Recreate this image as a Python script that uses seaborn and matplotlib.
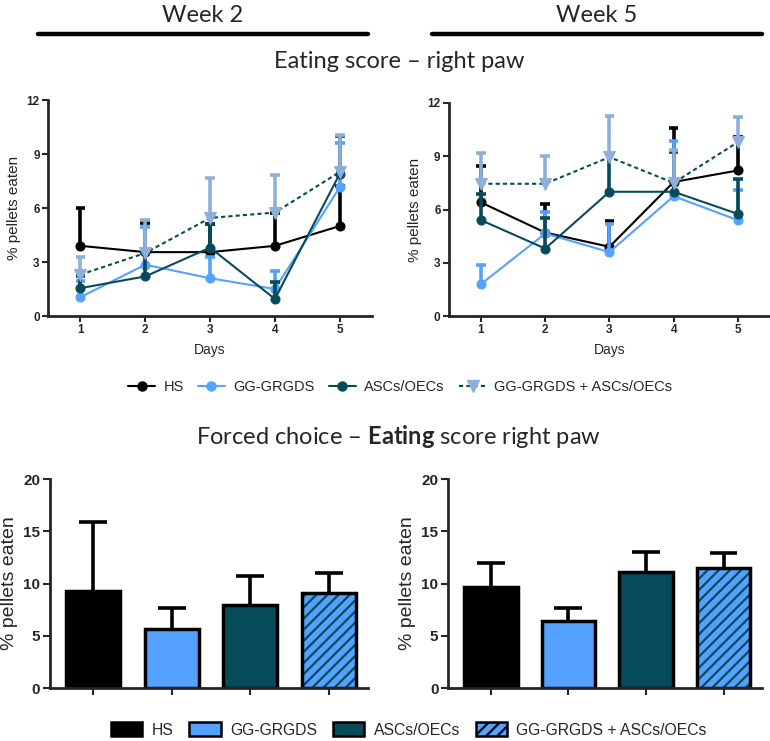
import numpy as np
import pandas as pd
import matplotlib
matplotlib.use('Agg')
import matplotlib.pyplot as plt
import seaborn as sns
from matplotlib.lines import Line2D
from matplotlib.patches import Patch, Rectangle

# groups and days
groups = ['HS', 'GG-GRGDS', 'ASCs/OECs', 'GG-GRGDS + ASCs/OECs']
days = [1, 2, 3, 4, 5]

# eating score per day, week 2 (mean and upper SD)
w2_hs = [3.9, 3.55, 3.55, 3.9, 5.0]
w2_hs_sd = [2.1, 1.6, 1.55, 1.8, 2.2]
w2_gg = [1.05, 2.85, 2.1, 1.5, 7.15]
w2_gg_sd = [0.9, 2.1, 1.2, 1.0, 2.45]
w2_asc = [1.55, 2.2, 3.8, 0.95, 7.9]
w2_asc_sd = [0.7, 1.3, 1.3, 0.95, 2.1]
w2_combo = [2.3, 3.5, 5.45, 5.75, 8.0]
w2_combo_sd = [1.0, 1.85, 2.2, 2.1, 2.05]

# eating score per day, week 5
w5_hs = [6.4, 4.7, 3.9, 7.55, 8.2]
w5_hs_sd = [2.05, 1.6, 1.45, 3.05, 1.9]
w5_gg = [1.8, 4.65, 3.6, 6.75, 5.4]
w5_gg_sd = [1.1, 1.2, 1.6, 3.1, 1.7]
w5_asc = [5.4, 3.8, 7.0, 7.0, 5.75]
w5_asc_sd = [1.5, 1.7, 2.1, 2.25, 1.95]
w5_combo = [7.45, 7.45, 8.95, 7.5, 9.8]
w5_combo_sd = [1.75, 1.55, 2.3, 1.85, 1.4]

# forced choice bars
fc_w2 = [9.3, 5.65, 7.95, 9.1]
fc_w2_sd = [6.6, 2.0, 2.8, 1.9]
fc_w5 = [9.7, 6.4, 11.1, 11.45]
fc_w5_sd = [2.25, 1.3, 1.9, 1.5]

BLACK = '#000000'
LBLUE = '#55A1FF'
TEAL = '#074B5A'
STEEL = '#8DAFDA'

sns.set_style('ticks')
plt.rcParams['font.family'] = ['Liberation Sans', 'DejaVu Sans']
plt.rcParams['mathtext.fontset'] = 'custom'
plt.rcParams['mathtext.rm'] = 'Lato'
plt.rcParams['mathtext.bf'] = 'Lato:bold'
plt.rcParams['hatch.linewidth'] = 1.6

fig = plt.figure(figsize=(7.7, 7.41), dpi=100)

# line styles: (line colour, marker, marker colour, linestyle, error colour)
line_styles = [
    (BLACK, 'o', BLACK, '-', BLACK),
    (LBLUE, 'o', LBLUE, '-', LBLUE),
    (TEAL, 'o', TEAL, '-', TEAL),
    (TEAL, 'v', STEEL, (0, (2, 1.5)), STEEL),
]


def line_panel(ax, series):
    for i, (mean, sd) in enumerate(series):
        lc, mk, mc, ls, ec = line_styles[i]
        df = pd.DataFrame({'Day': days, 'Score': mean})
        z = 3 + i
        mean = np.array(mean)
        top = mean + np.array(sd)
        ax.vlines(days, mean, top, colors=ec, lw=2.6, zorder=z)
        ax.hlines(top, np.array(days) - 0.075, np.array(days) + 0.075,
                  colors=ec, lw=2.6, zorder=z)
        sns.lineplot(data=df, x='Day', y='Score', ax=ax, color=lc, lw=1.5,
                     linestyle=ls, marker=mk, markersize=6.5 if mk == 'o' else 8,
                     markerfacecolor=mc, markeredgecolor=mc, errorbar=None,
                     zorder=z + 0.5)
    ax.set_xlim(0.5, 5.5)
    ax.set_ylim(0, 12)
    ax.set_xticks(days)
    ax.set_yticks([0, 3, 6, 9, 12])
    ax.set_xlabel('Days', fontsize=10, labelpad=5)
    ax.set_ylabel('% pellets eaten', fontsize=11, labelpad=4)
    ax.tick_params(labelsize=8.5, width=1.5, length=4, pad=2)
    for lab in ax.get_xticklabels() + ax.get_yticklabels():
        lab.set_fontweight('bold')
    for s in ['left', 'bottom']:
        ax.spines[s].set_linewidth(2)
    sns.despine(ax=ax)


ax1 = fig.add_axes([0.0623, 0.5735, 0.421, 0.2915])
line_panel(ax1, [(w2_hs, w2_hs_sd), (w2_gg, w2_gg_sd),
                 (w2_asc, w2_asc_sd), (w2_combo, w2_combo_sd)])
ax2 = fig.add_axes([0.583, 0.5735, 0.417, 0.2875])
line_panel(ax2, [(w5_hs, w5_hs_sd), (w5_gg, w5_gg_sd),
                 (w5_asc, w5_asc_sd), (w5_combo, w5_combo_sd)])

bar_colors = [BLACK, LBLUE, TEAL, LBLUE]


def bar_panel(ax, mean, sd):
    df = pd.DataFrame({'Group': groups, 'Score': mean})
    sns.barplot(data=df, x='Group', y='Score', hue='Group', palette=bar_colors,
                order=groups, hue_order=groups, width=0.69, legend=False,
                saturation=1, edgecolor='black', linewidth=2.5, ax=ax, zorder=2)
    # hatch for the combined group
    p = ax.patches[3]
    p.set_hatch('///')
    p.set_edgecolor(TEAL)
    p.set_linewidth(0)
    ax.add_patch(Rectangle(p.get_xy(), p.get_width(), p.get_height(),
                           fill=False, edgecolor='black', lw=2.5, zorder=2.5))
    x = np.arange(len(groups))
    top = np.array(mean) + np.array(sd)
    ax.vlines(x, mean, top, colors='black', lw=2.6, zorder=3)
    ax.hlines(top, x - 0.18, x + 0.18, colors='black', lw=2.6, zorder=3)
    ax.set_xlim(-0.55, 3.5)
    ax.set_ylim(0, 20)
    ax.set_yticks([0, 5, 10, 15, 20])
    ax.set_xticklabels([])
    ax.set_xlabel('')
    ax.set_ylabel('% pellets eaten', fontsize=14, labelpad=4)
    ax.tick_params(labelsize=11, width=1.5, length=5, pad=2)
    for lab in ax.get_yticklabels():
        lab.set_fontweight('bold')
    for s in ['left', 'bottom']:
        ax.spines[s].set_linewidth(2)
    sns.despine(ax=ax)


ax3 = fig.add_axes([0.065, 0.0715, 0.413, 0.282])
bar_panel(ax3, fc_w2, fc_w2_sd)
ax4 = fig.add_axes([0.582, 0.0715, 0.408, 0.282])
bar_panel(ax4, fc_w5, fc_w5_sd)

# headers
fig.text(0.263, 1 - 16 / 741, 'Week 2', ha='center', va='center', fontsize=17, family='Lato')
fig.text(0.775, 1 - 16 / 741, 'Week 5', ha='center', va='center', fontsize=17, family='Lato')
fig.add_artist(Line2D([0.049, 0.478], [1 - 34 / 741] * 2, transform=fig.transFigure,
                      color='black', lw=3.2))
fig.add_artist(Line2D([0.561, 0.99], [1 - 34 / 741] * 2, transform=fig.transFigure,
                      color='black', lw=3.2))
fig.text(0.519, 1 - 61 / 741, 'Eating score – right paw', ha='center', va='center',
         fontsize=17, family='Lato')
fig.text(0.517, 1 - 437 / 741, r'Forced choice – $\mathbf{Eating}$ score right paw',
         ha='center', va='center', fontsize=17, family='Lato')

# legends
line_handles = []
for lc, mk, mc, ls, ec in line_styles:
    line_handles.append(Line2D([], [], color=lc, lw=1.5, linestyle=ls, marker=mk,
                               markersize=6.5 if mk == 'o' else 8,
                               markerfacecolor=mc, markeredgecolor=mc))
fig.legend(line_handles, groups, loc='center', bbox_to_anchor=(0.52, 1 - 387 / 741),
           ncol=4, frameon=False, fontsize=10.5, handlelength=1.8, columnspacing=1.0,
           handletextpad=0.6)

bar_handles = [Patch(facecolor=c, edgecolor='black', lw=1.8) for c in bar_colors]
bar_handles[3] = Patch(facecolor=LBLUE, edgecolor='black', lw=1.8, hatch='///')
fig.legend(bar_handles, groups, loc='center', bbox_to_anchor=(0.531, 1 - 730 / 741),
           ncol=4, frameon=False, fontsize=11.3, handlelength=2.0, handleheight=1.0,
           columnspacing=1.0, handletextpad=0.6)

fig.savefig('out.png', dpi=100)
